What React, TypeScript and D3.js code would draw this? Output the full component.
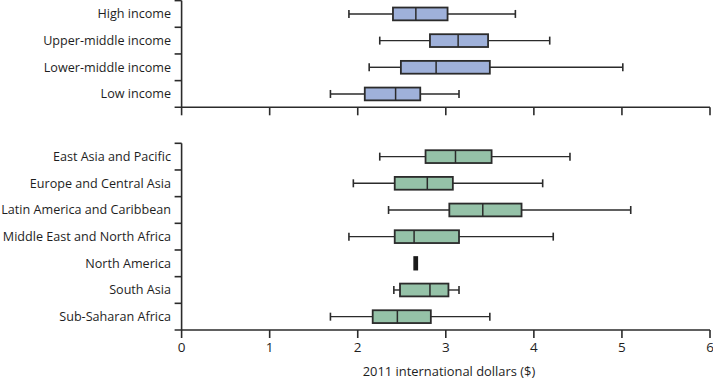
import React from "react";
import * as d3 from "d3";

const incomeGroups = ["High income", "Upper-middle income", "Lower-middle income", "Low income"];
const incomeMin = [1.9, 2.25, 2.13, 1.69];
const incomeQ1 = [2.4, 2.82, 2.49, 2.08];
const incomeMedian = [2.66, 3.14, 2.89, 2.43];
const incomeQ3 = [3.02, 3.48, 3.5, 2.71];
const incomeMax = [3.79, 4.18, 5.01, 3.15];

const regions = [
  "East Asia and Pacific",
  "Europe and Central Asia",
  "Latin America and Caribbean",
  "Middle East and North Africa",
  "North America",
  "South Asia",
  "Sub-Saharan Africa",
];
const regionMin = [2.25, 1.95, 2.35, 1.9, 2.65, 2.41, 1.69];
const regionQ1 = [2.77, 2.42, 3.04, 2.42, 2.64, 2.48, 2.17];
const regionMedian = [3.11, 2.79, 3.42, 2.64, 2.65, 2.82, 2.45];
const regionQ3 = [3.52, 3.08, 3.86, 3.15, 2.66, 3.03, 2.83];
const regionMax = [4.41, 4.1, 5.1, 4.22, 2.65, 3.15, 3.5];

const xTicks = [0, 1, 2, 3, 4, 5, 6];
const xTitle = "2011 international dollars ($)";

const W = 713;
const H = 379;
const FONT = "'Open Sans', sans-serif";
const STROKE = "#2b2b2b";
const TEXT = "#1e1e1e";

type Panel = {
  cats: string[];
  mn: number[];
  q1: number[];
  md: number[];
  q3: number[];
  mx: number[];
  fill: string;
  top: number;
  bottom: number;
  labels: boolean;
};

export default function App() {
  const x = d3.scaleLinear().domain([0, 6]).range([181.6, 710]);

  const panels: Panel[] = [
    { cats: incomeGroups, mn: incomeMin, q1: incomeQ1, md: incomeMedian, q3: incomeQ3, mx: incomeMax, fill: "#9fb1da", top: 0.6, bottom: 107.3, labels: false },
    { cats: regions, mn: regionMin, q1: regionQ1, md: regionMedian, q3: regionQ3, mx: regionMax, fill: "#95c2a8", top: 143.3, bottom: 330, labels: true },
  ];

  return (
    <svg width={W} height={H} style={{ position: "absolute", left: 0, top: 0 }} fontFamily={FONT}>
      {panels.map((p, pi) => {
        const y = d3.scaleBand().domain(p.cats).range([p.top, p.bottom]);
        const bw = y.bandwidth();
        const boxH = bw * 0.48;
        const capH = 8;
        const x0 = x(0);
        return (
          <g key={pi}>
            <line x1={x0} x2={x0} y1={p.top} y2={p.bottom} stroke={STROKE} strokeWidth={1.6} />
            {p.cats.map((c, i) => (
              <line key={"yt" + i} x1={x0 - 7} x2={x0} y1={(y(c) as number)} y2={(y(c) as number)} stroke={STROKE} strokeWidth={1.6} />
            ))}
            {p.cats.map((c, i) => (
              <text key={"yl" + i} x={171} y={(y(c) as number) + bw / 2} textAnchor="end" dominantBaseline="central" fontSize={12.6} fill={TEXT}>
                {c}
              </text>
            ))}
            <line x1={x0 - 7} x2={x(6)} y1={p.bottom} y2={p.bottom} stroke={STROKE} strokeWidth={1.6} />
            {xTicks.map((t) => (
              <g key={"xt" + t}>
                <line x1={x(t)} x2={x(t)} y1={p.bottom} y2={p.bottom + 8} stroke={STROKE} strokeWidth={1.6} />
                {p.labels && (
                  <text x={x(t)} y={p.bottom + 17} textAnchor="middle" dominantBaseline="central" fontSize={13.5} fill={TEXT}>
                    {t}
                  </text>
                )}
              </g>
            ))}
            {p.cats.map((c, i) => {
              const cy = (y(c) as number) + bw / 2;
              const single = p.mn[i] === p.mx[i] && p.q3[i] - p.q1[i] < 0.05;
              if (single) {
                return (
                  <rect key={"b" + i} x={x(p.q1[i])} y={cy - boxH / 2} width={x(p.q3[i]) - x(p.q1[i]) + 1.5} height={boxH} fill="#1a1a1a" stroke="#1a1a1a" strokeWidth={1.5} />
                );
              }
              return (
                <g key={"b" + i}>
                  <line x1={x(p.mn[i])} x2={x(p.q1[i])} y1={cy} y2={cy} stroke={STROKE} strokeWidth={1.4} />
                  <line x1={x(p.q3[i])} x2={x(p.mx[i])} y1={cy} y2={cy} stroke={STROKE} strokeWidth={1.4} />
                  <line x1={x(p.mn[i])} x2={x(p.mn[i])} y1={cy - capH / 2} y2={cy + capH / 2} stroke={STROKE} strokeWidth={1.6} />
                  <line x1={x(p.mx[i])} x2={x(p.mx[i])} y1={cy - capH / 2} y2={cy + capH / 2} stroke={STROKE} strokeWidth={1.6} />
                  <rect x={x(p.q1[i])} y={cy - boxH / 2} width={x(p.q3[i]) - x(p.q1[i])} height={boxH} fill={p.fill} stroke={STROKE} strokeWidth={1.8} />
                  <line x1={x(p.md[i])} x2={x(p.md[i])} y1={cy - boxH / 2} y2={cy + boxH / 2} stroke={STROKE} strokeWidth={1.5} />
                </g>
              );
            })}
          </g>
        );
      })}
      <text x={449} y={370.5} textAnchor="middle" dominantBaseline="central" fontSize={12.9} fill={TEXT}>
        {xTitle}
      </text>
    </svg>
  );
}
